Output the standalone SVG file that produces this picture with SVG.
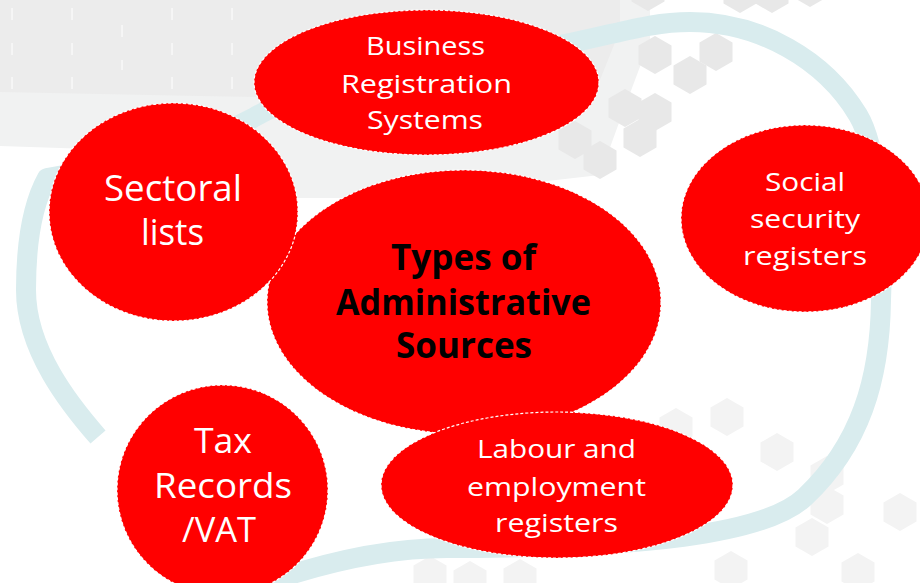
<svg xmlns="http://www.w3.org/2000/svg" xmlns:xlink="http://www.w3.org/1999/xlink" width="920" height="583" viewBox="0 0 920 583">
  <style>
    .node { fill: #ff0000; stroke: #ffffff; stroke-width: 1.2; stroke-dasharray: 3 2; }
    .lbl { font-family: "Open Sans", "Noto Sans", "Liberation Sans", sans-serif; fill: #ffffff; }
    .hub { font-family: "Open Sans", "Noto Sans", "Liberation Sans", sans-serif; font-weight: bold; fill: #000000; }
    .hexd { fill: #e8e8e8; }
    .hexl { fill: #f3f3f3; }
    .tick { stroke: #ffffff; stroke-width: 1; }
  </style>
  <defs>
    <path id="hex" d="M0,-19 L16.5,-9.5 L16.5,9.5 L0,19 L-16.5,9.5 L-16.5,-9.5 Z"/>
  </defs>
  <rect width="920" height="583" fill="#ffffff"/>
  <g id="background">
    <path d="M0,0 H650 V40 L620,120 L600,175 L470,190 L360,198 L260,198 L200,155 L120,150 L60,148 L0,146 Z" fill="#f1f2f2"/>
    <path d="M0,0 H620 V30 L600,80 L560,98 L300,98 L200,96 L0,92 Z" fill="#ececec"/>
    <g class="tick">
      <line x1="12" y1="8" x2="12" y2="20"/><line x1="12" y1="43" x2="12" y2="55"/><line x1="12" y1="77" x2="12" y2="89"/>
      <line x1="72" y1="8" x2="72" y2="20"/><line x1="72" y1="43" x2="72" y2="55"/><line x1="72" y1="77" x2="72" y2="89"/>
      <line x1="122" y1="25" x2="122" y2="37"/><line x1="122" y1="60" x2="122" y2="70"/>
      <line x1="172" y1="8" x2="172" y2="20"/><line x1="172" y1="43" x2="172" y2="55"/><line x1="172" y1="77" x2="172" y2="89"/>
      <line x1="232" y1="8" x2="232" y2="20"/><line x1="232" y1="43" x2="232" y2="55"/><line x1="232" y1="77" x2="232" y2="89"/>
    </g>
    <g class="hexd">
      <use xlink:href="#hex" x="648" y="-8"/>
      <use xlink:href="#hex" x="740" y="-6"/>
      <use xlink:href="#hex" x="772" y="-6"/>
      <use xlink:href="#hex" x="810" y="-12"/>
      <use xlink:href="#hex" x="716" y="52"/>
      <use xlink:href="#hex" x="655" y="55"/>
      <use xlink:href="#hex" x="690" y="75"/>
      <use xlink:href="#hex" x="625" y="108"/>
      <use xlink:href="#hex" x="655" y="112"/>
      <use xlink:href="#hex" x="640" y="138"/>
      <use xlink:href="#hex" x="575" y="140"/>
      <use xlink:href="#hex" x="600" y="160"/>
    </g>
    <g class="hexl">
      <use xlink:href="#hex" x="727" y="417"/>
      <use xlink:href="#hex" x="777" y="452"/>
      <use xlink:href="#hex" x="827" y="475"/>
      <use xlink:href="#hex" x="827" y="505"/>
      <use xlink:href="#hex" x="812" y="537"/>
      <use xlink:href="#hex" x="900" y="512"/>
      <use xlink:href="#hex" x="731" y="570"/>
      <use xlink:href="#hex" x="676" y="427"/>
      <use xlink:href="#hex" x="858" y="572"/>
      <use xlink:href="#hex" x="430" y="575"/>
      <use xlink:href="#hex" x="470" y="580"/>
      <use xlink:href="#hex" x="520" y="578"/>
    </g>
  </g>
  <g id="connectors">
    <path d="M98,437 C70,405 26,350 26,290 C26,245 32,205 47,178 L120,165 C180,155 210,140 253,118 C330,72 480,61 570,43 C620,33 650,22 690,22 C760,22 825,60 858,115 C878,148 884,230 881,300 C880,380 860,445 805,497 C765,535 640,548 447,548 C380,548 320,565 280,578 C250,588 230,592 200,596" fill="none" stroke="#d9ecee" stroke-width="20" stroke-linejoin="round"/>
  </g>
  <g id="node-center">
    <ellipse class="node" cx="464" cy="302" rx="197" ry="132"/>
    <text class="hub" font-size="35" x="391" y="270" textLength="145" lengthAdjust="spacingAndGlyphs">Types of</text>
    <text class="hub" font-size="35" x="336" y="315" textLength="255" lengthAdjust="spacingAndGlyphs">Administrative</text>
    <text class="hub" font-size="35" x="396" y="358" textLength="136" lengthAdjust="spacingAndGlyphs">Sources</text>
  </g>
  <g id="node-sectoral">
    <ellipse class="node" cx="173.5" cy="212" rx="124.5" ry="109"/>
    <text class="lbl" font-size="36" x="104" y="201" textLength="138" lengthAdjust="spacingAndGlyphs">Sectoral</text>
    <text class="lbl" font-size="36" x="141" y="245" textLength="63" lengthAdjust="spacingAndGlyphs">lists</text>
  </g>
  <g id="node-business">
    <ellipse class="node" cx="426.5" cy="82.5" rx="172.5" ry="72.5"/>
    <text class="lbl" font-size="26" x="366" y="55" textLength="119" lengthAdjust="spacingAndGlyphs">Business</text>
    <text class="lbl" font-size="26" x="341" y="93" textLength="171" lengthAdjust="spacingAndGlyphs">Registration</text>
    <text class="lbl" font-size="26" x="367" y="129" textLength="116" lengthAdjust="spacingAndGlyphs">Systems</text>
  </g>
  <g id="node-social">
    <ellipse class="node" cx="805" cy="218.5" rx="124" ry="93.5"/>
    <text class="lbl" font-size="26" x="765" y="191" textLength="80" lengthAdjust="spacingAndGlyphs">Social</text>
    <text class="lbl" font-size="26" x="750" y="228" textLength="110" lengthAdjust="spacingAndGlyphs">security</text>
    <text class="lbl" font-size="26" x="743" y="265" textLength="124" lengthAdjust="spacingAndGlyphs">registers</text>
  </g>
  <g id="node-tax">
    <ellipse class="node" cx="222.5" cy="490" rx="105.5" ry="105"/>
    <text class="lbl" font-size="34" x="194" y="453" textLength="58" lengthAdjust="spacingAndGlyphs">Tax</text>
    <text class="lbl" font-size="34" x="154" y="498" textLength="138" lengthAdjust="spacingAndGlyphs">Records</text>
    <text class="lbl" font-size="34" x="182" y="542" textLength="74" lengthAdjust="spacingAndGlyphs">/VAT</text>
  </g>
  <g id="node-labour">
    <ellipse class="node" cx="557" cy="485" rx="176" ry="73"/>
    <text class="lbl" font-size="26" x="477" y="458" textLength="159" lengthAdjust="spacingAndGlyphs">Labour and</text>
    <text class="lbl" font-size="26" x="467" y="496" textLength="179" lengthAdjust="spacingAndGlyphs">employment</text>
    <text class="lbl" font-size="26" x="495" y="532" textLength="123" lengthAdjust="spacingAndGlyphs">registers</text>
  </g>
</svg>
